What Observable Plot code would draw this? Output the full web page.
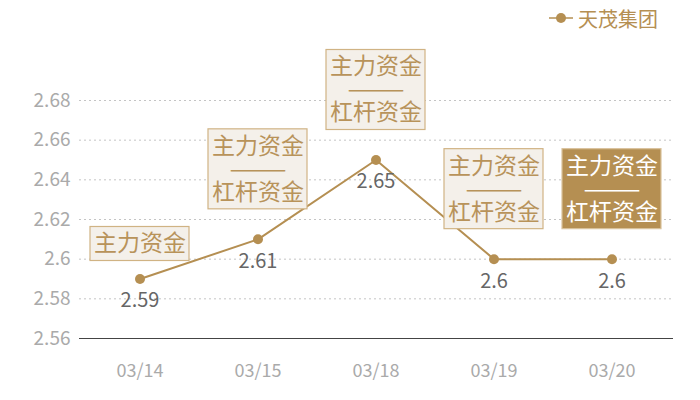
<!DOCTYPE html>
<html><head><meta charset="utf-8">
<script src="https://cdn.jsdelivr.net/npm/d3@7"></script>
<script src="https://cdn.jsdelivr.net/npm/@observablehq/plot@0.6"></script>
<style>
body{margin:0;background:#fff;font-family:"Noto Sans CJK SC","Noto Sans",sans-serif;}
#wrap{width:700px;}
.legend{height:36px;display:flex;justify-content:flex-end;align-items:center;padding-right:42px;color:#b58f52;font-size:20px;}
.legend svg{margin-right:5px;}
</style></head><body><div id="wrap"></div>
<script>
const dates = ["03/14","03/15","03/18","03/19","03/20"];
const values = [2.59, 2.61, 2.65, 2.60, 2.60];
const boxLabels = ["主力资金","主力资金\n———\n杠杆资金","主力资金\n———\n杠杆资金","主力资金\n———\n杠杆资金","主力资金\n———\n杠杆资金"];
const highlighted = [false,false,false,false,true];
const yTicks = [2.56, 2.58, 2.60, 2.62, 2.64, 2.66, 2.68];
const seriesName = "天茂集团";

const gold = "#b58f52";
const data = dates.map((d,i)=>({date:d, value:values[i], label:boxLabels[i], hl:highlighted[i], multi:boxLabels[i].includes("\n")}));
const fmt = d => String(+d.toFixed(2));

const wrap = document.getElementById("wrap");
const legend = document.createElement("div");
legend.className = "legend";
legend.innerHTML = `<svg width="24" height="12"><line x1="0" y1="6" x2="24" y2="6" stroke="${gold}" stroke-width="1.5"/><circle cx="12" cy="6" r="5" fill="${gold}"/></svg><span>${seriesName}</span>`;
wrap.appendChild(legend);

const multi = data.filter(d=>d.multi), single = data.filter(d=>!d.multi);
const chart = Plot.plot({
  width: 700, height: 364,
  marginTop: 64, marginBottom: 62, marginLeft: 79, marginRight: 27,
  style: {fontFamily: '"Noto Sans CJK SC","Noto Sans",sans-serif', background: "#fff"},
  x: {type: "band", domain: dates, paddingInner: 0.16, paddingOuter: 0.08, label: null},
  y: {domain: [2.56, 2.68], label: null},
  marks: [
    Plot.gridY(yTicks.slice(1), {stroke: "#c4c4c4", strokeOpacity: 1, strokeDasharray: "2,3"}),
    Plot.ruleY([yTicks[0]], {stroke: "#444", strokeWidth: 1}),
    Plot.axisY({ticks: yTicks, tickFormat: fmt, tickSize: 0, tickPadding: 9, fontSize: 19, fill: "#aaa"}),
    Plot.axisX({tickSize: 0, tickPadding: 26, fontSize: 18, fill: "#aaa"}),
    Plot.line(data, {x: "date", y: "value", stroke: gold, strokeWidth: 2}),
    Plot.dot(data, {x: "date", y: "value", r: 5, fill: gold}),
    Plot.text(data, {x: "date", y: "value", text: d => fmt(d.value), dy: 22, fill: "#666", fontSize: 20}),
    Plot.barY(multi, {x: "date", y1: "value", y2: "value", insetTop: -110, insetBottom: 30,
      fill: d => d.hl ? gold : "#f4f0ea", stroke: d => d.hl ? "#d9c29c" : "#d0b384", strokeWidth: 1.2}),
    Plot.barY(single, {x: "date", y1: "value", y2: "value", insetTop: -52, insetBottom: 18,
      fill: d => d.hl ? gold : "#f4f0ea", stroke: d => d.hl ? "#d9c29c" : "#d0b384", strokeWidth: 1.2}),
    Plot.text(multi, {x: "date", y: "value", text: "label", dy: -70, lineAnchor: "middle", lineHeight: 1,
      fontSize: 23, fill: d => d.hl ? "#fff" : "#b8935a"}),
    Plot.text(single, {x: "date", y: "value", text: "label", dy: -35, lineAnchor: "middle",
      fontSize: 23, fill: d => d.hl ? "#fff" : "#b8935a"})
  ]
});
wrap.appendChild(chart);
</script></body></html>
